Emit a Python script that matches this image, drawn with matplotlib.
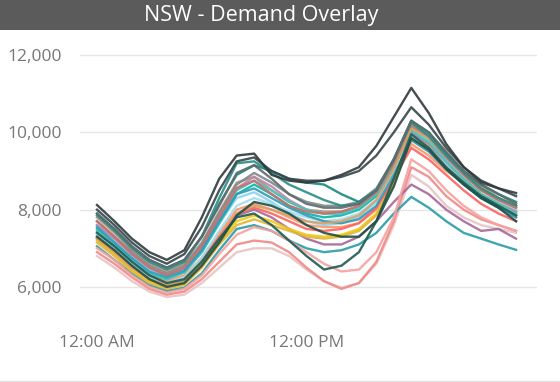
import matplotlib
matplotlib.use("Agg")
import matplotlib.pyplot as plt
from matplotlib.patches import Rectangle
from matplotlib.lines import Line2D
from matplotlib.ticker import FuncFormatter

# hour of day, one point per hour (0 = midnight, 24 = next midnight)
hours = list(range(25))

# demand (MW) per day
d01 = [6800, 6500, 6150, 5880, 5740, 5800, 6100, 6500, 6900, 7000, 7000, 6800, 6450, 6150, 5980, 6100, 6600, 7600, 8900, 8600, 8100, 7800, 7600, 7500, 7400]
d02 = [6900, 6600, 6250, 5950, 5800, 5880, 6200, 6650, 7100, 7200, 7150, 6900, 6500, 6150, 5950, 6100, 6650, 7700, 9100, 8850, 8350, 8000, 7750, 7600, 7450]
d03 = [7050, 6700, 6350, 6050, 5900, 5980, 6350, 6950, 7500, 7600, 7450, 7200, 7000, 6900, 6950, 7100, 7400, 7900, 8330, 8050, 7700, 7400, 7250, 7100, 6960]
d04 = [7250, 6900, 6500, 6200, 6050, 6150, 6550, 7200, 7850, 8000, 7800, 7500, 7250, 7100, 7100, 7300, 7700, 8200, 8650, 8400, 8000, 7700, 7450, 7500, 7250]
d05 = [7200, 6850, 6450, 6150, 6000, 6100, 6550, 7150, 7700, 7850, 7700, 7500, 7350, 7300, 7350, 7500, 7900, 8700, 9800, 9600, 9200, 8800, 8400, 8100, 7900]
d06 = [7400, 7000, 6600, 6300, 6150, 6300, 6750, 7400, 8000, 8150, 8000, 7800, 7600, 7550, 7550, 7650, 8000, 8800, 9700, 9400, 9000, 8700, 8300, 8050, 7800]
d07 = [7600, 7200, 6800, 6450, 6300, 6450, 6950, 7650, 8300, 8450, 8200, 7900, 7700, 7600, 7650, 7800, 8200, 9000, 10100, 9800, 9300, 8900, 8500, 8200, 8000]
d08 = [7800, 7400, 6950, 6600, 6400, 6600, 7150, 7950, 8700, 8850, 8500, 8200, 8000, 7950, 7950, 8050, 8400, 9200, 10200, 9900, 9400, 8900, 8500, 8250, 8050]
d09 = [7500, 7100, 6700, 6350, 6200, 6380, 6900, 7650, 8400, 8650, 8400, 8100, 7900, 7800, 7850, 8000, 8350, 9100, 10000, 9700, 9200, 8750, 8350, 8100, 7850]
d10 = [7300, 6950, 6550, 6250, 6100, 6230, 6700, 7300, 7900, 8050, 7900, 7700, 7500, 7450, 7500, 7650, 8050, 8800, 9600, 9300, 8900, 8500, 8150, 7900, 7700]
d11 = [7700, 7300, 6900, 6550, 6350, 6550, 7100, 7900, 8650, 8950, 8700, 8400, 8200, 8100, 8100, 8200, 8550, 9300, 10300, 9950, 9450, 8950, 8600, 8300, 8100]
d12 = [7000, 6700, 6300, 6000, 5850, 5950, 6300, 6850, 7350, 7550, 7450, 7200, 6900, 6600, 6400, 6450, 6900, 7800, 9300, 9000, 8500, 8100, 7800, 7600, 7450]
d13 = [7150, 6800, 6400, 6100, 5950, 6050, 6500, 7100, 7600, 7750, 7600, 7450, 7300, 7250, 7300, 7450, 7850, 8650, 9900, 9650, 9200, 8800, 8400, 8150, 7950]
d14 = [7600, 7250, 6850, 6500, 6300, 6480, 7000, 7800, 8550, 8850, 8600, 8250, 8000, 7900, 7900, 8050, 8400, 9100, 10000, 9700, 9200, 8800, 8400, 8150, 7950]
d15 = [7350, 7000, 6600, 6250, 6100, 6250, 6750, 7450, 8100, 8300, 8150, 7950, 7800, 7700, 7750, 7900, 8250, 9000, 9900, 9600, 9150, 8700, 8300, 8050, 7850]
d16 = [7450, 7100, 6700, 6350, 6200, 6380, 6900, 7650, 8500, 8750, 8500, 8200, 8000, 7900, 7900, 8050, 8400, 9150, 10050, 9750, 9250, 8800, 8400, 8150, 7900]
d17 = [7700, 7300, 6850, 6500, 6300, 6500, 7050, 7800, 8550, 8750, 8400, 8100, 7950, 7900, 7950, 8100, 8450, 9200, 10150, 9850, 9350, 8900, 8500, 8250, 8050]
d18 = [7550, 7150, 6750, 6400, 6250, 6420, 6950, 7700, 8400, 8550, 8300, 8050, 7850, 7700, 7650, 7750, 8100, 8900, 9800, 9500, 9050, 8650, 8300, 8050, 7800]
d19 = [7250, 6900, 6500, 6200, 6050, 6150, 6600, 7250, 7900, 8100, 8000, 7850, 7700, 7650, 7700, 7850, 8250, 9050, 10100, 9850, 9400, 9000, 8600, 8300, 8100]
d20 = [7900, 7500, 7050, 6700, 6500, 6700, 7300, 8150, 8900, 9150, 9000, 8800, 8700, 8650, 8400, 8200, 8500, 9300, 10300, 10000, 9450, 9000, 8650, 8400, 8200]
d21 = [7850, 7450, 7000, 6650, 6450, 6650, 7300, 8300, 9200, 9250, 8950, 8650, 8450, 8250, 8100, 8150, 8500, 9300, 10250, 9900, 9400, 8950, 8550, 8300, 8100]
d22 = [7400, 7050, 6650, 6300, 6100, 6200, 6650, 7250, 7800, 7900, 7600, 7200, 6800, 6450, 6550, 6900, 7700, 8800, 9950, 9600, 9100, 8700, 8350, 8100, 7850]
d23 = [7300, 6950, 6550, 6200, 6000, 6100, 6550, 7150, 7850, 8200, 8100, 7900, 7600, 7400, 7300, 7300, 7700, 8600, 9850, 9550, 9050, 8650, 8300, 8050, 7700]
d24 = [7900, 7500, 7050, 6700, 6500, 6700, 7300, 8100, 8950, 9150, 8800, 8400, 8150, 8050, 8050, 8150, 8500, 9300, 10300, 10000, 9500, 9000, 8650, 8400, 8150]
d25 = [8000, 7600, 7150, 6800, 6600, 6850, 7550, 8500, 9250, 9350, 9000, 8800, 8750, 8750, 8850, 9000, 9400, 10000, 10650, 10200, 9600, 9100, 8700, 8550, 8350]
d26 = [8120, 7700, 7250, 6900, 6700, 6950, 7800, 8800, 9400, 9450, 8900, 8750, 8700, 8750, 8900, 9100, 9650, 10400, 11150, 10500, 9700, 9100, 8750, 8550, 8430]

days = [d01, d02, d03, d04, d05, d06, d07, d08, d09, d10, d11, d12, d13,
        d14, d15, d16, d17, d18, d19, d20, d21, d22, d23, d24, d25, d26]

colors = ["#E8C4C4", "#F08A86", "#2A9DA8", "#A66999", "#F2C80F", "#FE9666",
          "#8AD4EB", "#B39280", "#01B8AA", "#FD625E", "#7F898A", "#F4A3A0",
          "#E0B63A", "#B887AD", "#A1DDEF", "#4AC5BB", "#C8706A", "#3599B8",
          "#D9A066", "#168980", "#2A8C87", "#1E5B4F", "#1F4F47", "#5F6B6D",
          "#374649", "#2F3A3C"]

y_ticks = [6000, 8000, 10000, 12000]
x_ticks = [0, 12]
x_labels = ["12:00 AM", "12:00 PM"]

fig = plt.figure(figsize=(5.6, 3.82), dpi=100)
fig.patch.set_facecolor("white")

# title bar
fig.patches.append(Rectangle((0, 1 - 30 / 382), 1, 30 / 382, transform=fig.transFigure,
                             facecolor="#5b5b5b", edgecolor="none", zorder=0))
fig.text(261 / 560, 1 - 15 / 382, "NSW - Demand Overlay", color="white",
         fontsize=15.5, family="Open Sans", ha="center", va="center")
fig.lines.append(Line2D([0, 1], [1.5 / 382, 1.5 / 382], transform=fig.transFigure,
                        color="#e2e2e2", lw=1))

ax = fig.add_axes([80 / 560, 0.178, 457 / 560, 0.688])
for d, c in zip(days, colors):
    ax.plot(hours, d, color=c, lw=1.7, alpha=0.9, solid_joinstyle="round")

ax.set_xlim(-0.974, 25.2)
ax.set_ylim(5300, 12100)
ax.set_yticks(y_ticks)
ax.yaxis.set_major_formatter(FuncFormatter(lambda v, p: f"{int(v):,}"))
ax.set_xticks(x_ticks)
ax.set_xticklabels(x_labels)
ax.grid(axis="y", color="#e6e6e6", lw=1)
ax.set_axisbelow(True)
for s in ax.spines.values():
    s.set_visible(False)
ax.tick_params(length=0, colors="#777777", labelsize=12.5)
ax.tick_params(axis="y", pad=13)
ax.tick_params(axis="x", pad=15)
for lab in ax.get_xticklabels() + ax.get_yticklabels():
    lab.set_family("Open Sans")

fig.savefig("out.png", dpi=100)
